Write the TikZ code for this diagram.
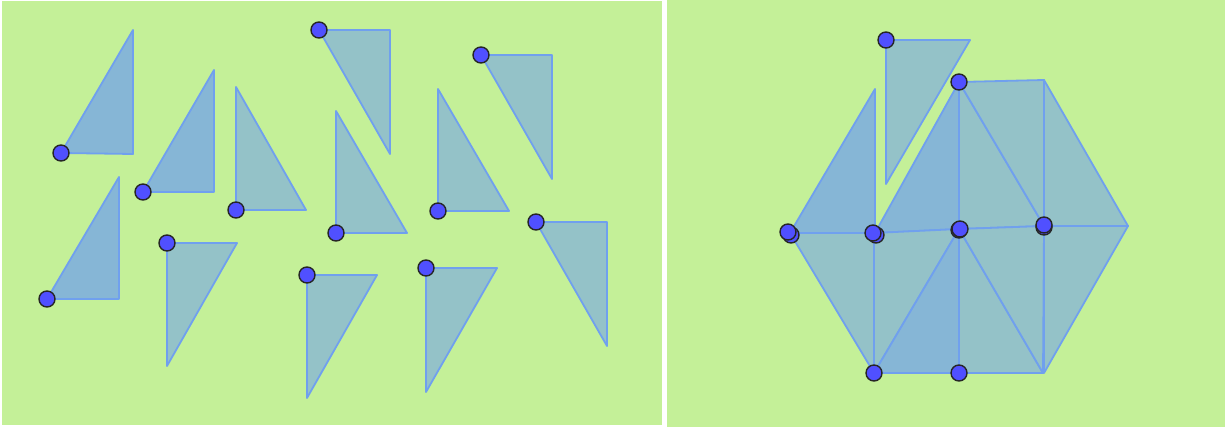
\documentclass[tikz,border=0pt]{standalone}
\definecolor{bggreen}{RGB}{196,240,152}
\definecolor{fillblue}{RGB}{134,182,214}
\definecolor{fillteal}{RGB}{148,194,200}
\definecolor{edgeblue}{RGB}{112,160,238}
\definecolor{dotblue}{RGB}{80,80,255}
\begin{document}
\begin{tikzpicture}[x=1pt,y=-1pt,
  triA/.style={fill=fillblue,draw=edgeblue,line width=1.8pt,line join=round},
  triB/.style={fill=fillteal,draw=edgeblue,line width=1.8pt,line join=round},
  dot/.style={circle,minimum size=16pt,inner sep=0pt,fill=dotblue,draw=black!85,line width=1.4pt}]
\useasboundingbox (0,0) rectangle (1225,427);
\fill[white] (0,0) rectangle (1225,427);
\fill[bggreen] (2,1) rectangle (662,425);
\fill[bggreen] (667,0) rectangle (1225,427);
% left panel
\filldraw[triA] (61,153) -- (133,30) -- (133,154) -- cycle;
\filldraw[triA] (143,192) -- (214,70) -- (214,192) -- cycle;
\filldraw[triA] (47,299) -- (119,177) -- (119,299) -- cycle;
\filldraw[triB] (236,87) -- (236,210) -- (306,210) -- cycle;
\filldraw[triB] (336,111) -- (336,233) -- (407,233) -- cycle;
\filldraw[triB] (438,89) -- (438,211) -- (509,211) -- cycle;
\filldraw[triB] (319,30) -- (390,30) -- (390,154) -- cycle;
\filldraw[triB] (481,55) -- (552,55) -- (552,179) -- cycle;
\filldraw[triB] (536,222) -- (607,222) -- (607,346) -- cycle;
\filldraw[triB] (167,243) -- (237,243) -- (167,366) -- cycle;
\filldraw[triB] (307,275) -- (377,275) -- (307,398) -- cycle;
\filldraw[triB] (426,268) -- (497,268) -- (426,392) -- cycle;
\node[dot] (l1) at (61,153) {};
\node[dot] (l2) at (143,192) {};
\node[dot] (l3) at (47,299) {};
\node[dot] (l4) at (236,210) {};
\node[dot] (l5) at (336,233) {};
\node[dot] (l6) at (438,211) {};
\node[dot] (l7) at (319,30) {};
\node[dot] (l8) at (481,55) {};
\node[dot] (l9) at (536,222) {};
\node[dot] (l10) at (167,243) {};
\node[dot] (l11) at (307,275) {};
\node[dot] (l12) at (426,268) {};
% right panel
\filldraw[triB] (886,40) -- (970,40) -- (886,184) -- cycle;
\filldraw[triA] (790,233) -- (875,89) -- (875,233) -- cycle;
\filldraw[triA] (875,233) -- (959,82) -- (959,229) -- cycle;
\filldraw[triB] (959,82) -- (959,229) -- (1044,226) -- cycle;
\filldraw[triB] (959,82) -- (1044,80) -- (1044,226) -- cycle;
\filldraw[triB] (1044,80) -- (1044,226) -- (1128,226) -- cycle;
\filldraw[triB] (790,233) -- (874,233) -- (874,373) -- cycle;
\filldraw[triB] (874,233) -- (959,229) -- (874,373) -- cycle;
\filldraw[triA] (874,373) -- (959,229) -- (959,373) -- cycle;
\filldraw[triB] (959,229) -- (959,373) -- (1043,373) -- cycle;
\filldraw[triB] (959,229) -- (1044,226) -- (1043,373) -- cycle;
\filldraw[triB] (1044,226) -- (1128,226) -- (1044,373) -- cycle;
\node[dot] (r1) at (886,40) {};
\node[dot] (r2) at (959,82) {};
\node[dot] (r3b) at (791,235) {};
\node[dot] (r3) at (788,232) {};
\node[dot] (r4b) at (876,235) {};
\node[dot] (r4) at (873,233) {};
\node[dot] (r5b) at (959,230) {};
\node[dot] (r5) at (960,229) {};
\node[dot] (r6b) at (1044,227) {};
\node[dot] (r6) at (1044,225) {};
\node[dot] (r7) at (874,373) {};
\node[dot] (r8) at (959,373) {};
\end{tikzpicture}
\end{document}
